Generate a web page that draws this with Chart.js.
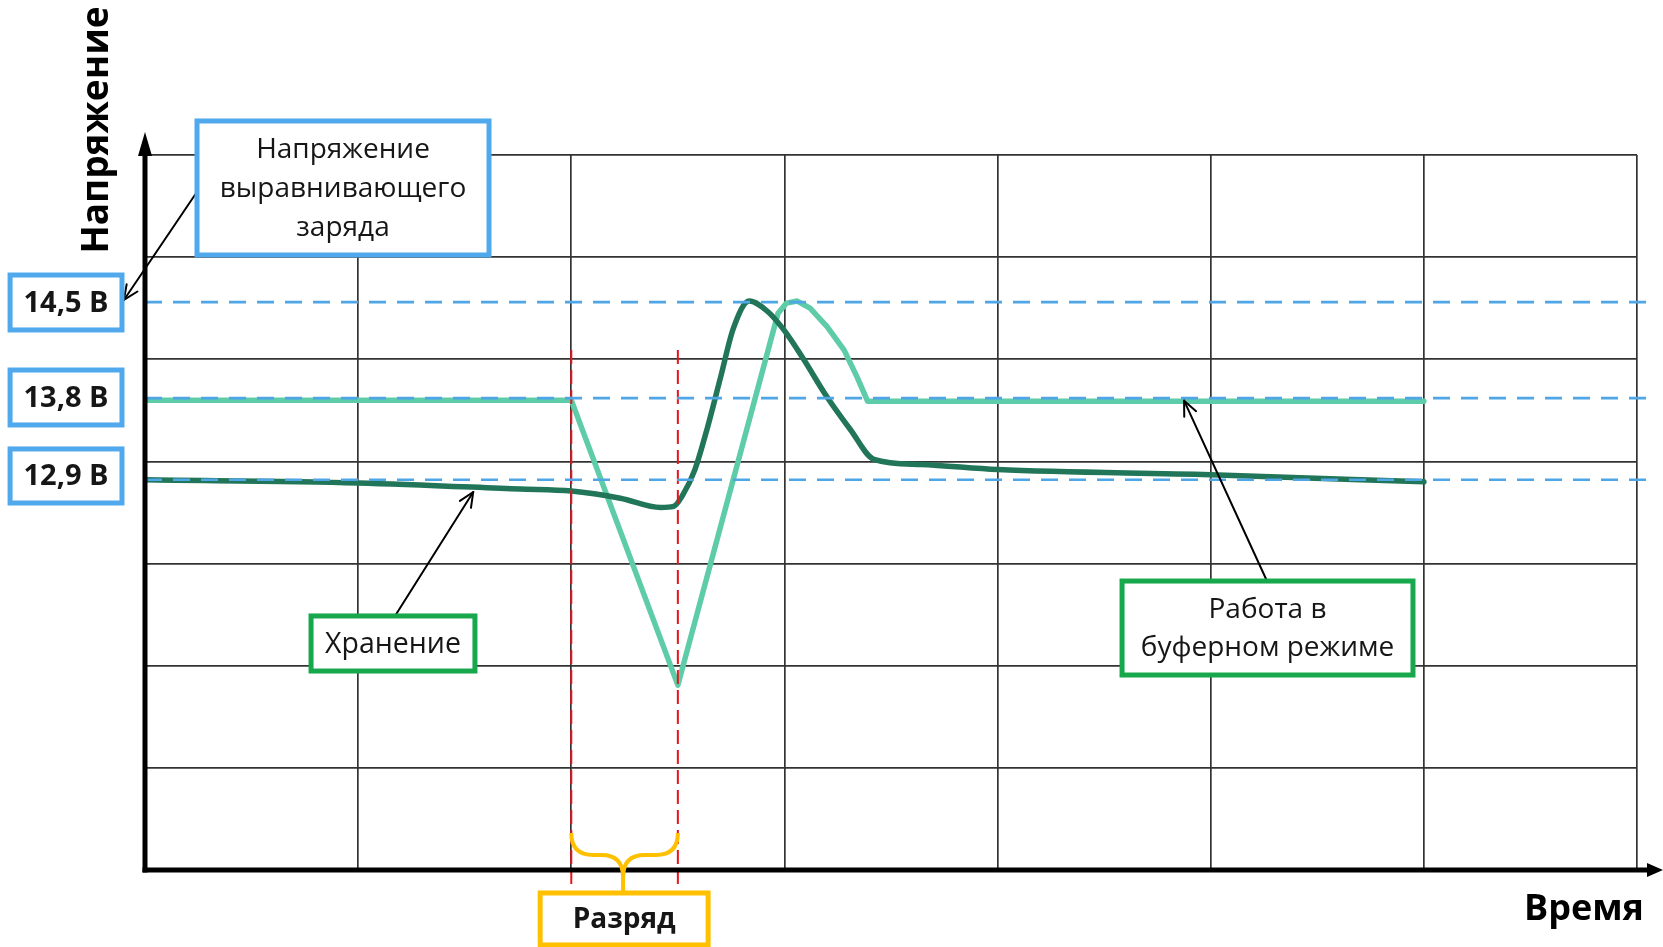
<!DOCTYPE html>
<html><head><meta charset="utf-8">
<script src="https://cdn.jsdelivr.net/npm/chart.js@4.4.1/dist/chart.umd.min.js"></script>
<style>html,body{margin:0;padding:0;background:#fff;overflow:hidden}#wrap{width:1663px;height:947px}</style>
</head><body><div id="wrap"><canvas id="c" width="1663" height="947"></canvas></div>
<script>
// ---- data (abstract grid units: time 0..7, voltage 0..7) ----
const timeTicks = [0, 1, 2, 3, 4, 5, 6, 7];
const voltTicks = [0, 1, 2, 3, 4, 5, 6, 7];
const levelNames = ['14,5 В', '13,8 В', '12,9 В'];
const levelValues = [5.56, 4.62, 3.82];
const levelLineEnd = 7.07;
const chargerX = [0, 2.0, 2.5, 2.97, 3.01, 3.06, 3.12, 3.20, 3.28, 3.34, 3.39, 6.0];
const chargerY = [4.60, 4.60, 1.81, 5.45, 5.55, 5.57, 5.50, 5.32, 5.09, 4.83, 4.59, 4.59];
const batteryX = [0, 1.0, 1.76, 2.0, 2.23, 2.42, 2.48, 2.52, 2.58, 2.64, 2.70, 2.76, 2.835, 2.92, 3.0, 3.09, 3.20, 3.31, 3.42, 3.64, 4.0, 5.0, 6.0];
const batteryY = [3.82, 3.79, 3.73, 3.71, 3.64, 3.55, 3.56, 3.66, 3.92, 4.34, 4.82, 5.30, 5.57, 5.47, 5.28, 5.00, 4.63, 4.31, 4.02, 3.97, 3.92, 3.87, 3.80];
const dischargeBounds = [2.0, 2.5];
const dischargeLineTop = 5.09, dischargeLineBottom = -0.19;
const seriesNames = ['Напряжение зарядного устройства', 'Напряжение батареи'];
const axisTitles = ['Напряжение', 'Время'];

const pts = (xs, ys) => xs.map((x, i) => ({x, y: ys[i]}));

const datasets = [];
levelValues.forEach((v, i) => datasets.push({
  label: levelNames[i], data: [{x: 0, y: v}, {x: levelLineEnd, y: v}],
  borderColor: '#4FA6E6', borderWidth: 2.6, borderDash: [17, 11], pointRadius: 0,
  tension: 0, clip: false, order: 0
}));
dischargeBounds.forEach(b => datasets.push({
  label: 'Разряд', data: [{x: b, y: dischargeLineTop}, {x: b, y: dischargeLineBottom}],
  borderColor: '#E8141B', borderWidth: 2, borderDash: [14, 6], pointRadius: 0,
  tension: 0, clip: false, order: 0
}));
datasets.push({
  label: seriesNames[0], data: pts(chargerX, chargerY),
  borderColor: '#5ECBA9', borderWidth: 5.5, pointRadius: 0, tension: 0,
  borderJoinStyle: 'round', borderCapStyle: 'round', order: 2
});
datasets.push({
  label: seriesNames[1], data: pts(batteryX, batteryY),
  borderColor: '#217559', borderWidth: 5.5, pointRadius: 0,
  cubicInterpolationMode: 'monotone', borderJoinStyle: 'round', borderCapStyle: 'round', order: 1
});

// ---- annotations (positions in data units) ----
const FONT = '"Open Sans", "DejaVu Sans", sans-serif';
const boxes = [
  {x1: 0.244, y1: 7.333, x2: 1.614, y2: 6.021, color: '#4FA9EC', lines: ['Напряжение', 'выравнивающего', 'заряда'], font: '28px', lineGap: 0.382},
  {x1: -0.633, y1: 5.825, x2: -0.108, y2: 5.287, color: '#4FA9EC', lines: [levelNames[0]], font: 'bold 29px', lineGap: 0},
  {x1: -0.633, y1: 4.895, x2: -0.108, y2: 4.357, color: '#4FA9EC', lines: [levelNames[1]], font: 'bold 29px', lineGap: 0},
  {x1: -0.633, y1: 4.122, x2: -0.108, y2: 3.593, color: '#4FA9EC', lines: [levelNames[2]], font: 'bold 29px', lineGap: 0},
  {x1: 0.779, y1: 2.487, x2: 1.548, y2: 1.948, color: '#17A84C', lines: ['Хранение'], font: '28.5px', lineGap: 0},
  {x1: 4.584, y1: 2.829, x2: 5.949, y2: 1.909, color: '#17A84C', lines: ['Работа в', 'буферном режиме'], font: '28px', lineGap: 0.372},
  {x1: 1.854, y1: -0.225, x2: 2.642, y2: -0.734, color: '#FFC000', lines: ['Разряд'], font: 'bold 28px', lineGap: 0}
];
const arrows = [
  {from: [0.253, 6.667], to: [-0.099, 5.581]},
  {from: [1.173, 2.487], to: [1.540, 3.701]},
  {from: [5.264, 2.829], to: [4.875, 4.595]}
];
const brace = {x1: 2.0, x2: 2.5, cx: 2.243, yTop: 0.362, yMid: 0.147, yBottom: -0.225};

const annot = {
  id: 'annot',
  afterDatasetsDraw(chart) {
    const {ctx, scales: {x, y}} = chart;
    const X = v => x.getPixelForValue(v), Y = v => y.getPixelForValue(v);
    ctx.save();
    ctx.strokeStyle = '#000'; ctx.fillStyle = '#000'; ctx.lineWidth = 5; ctx.lineCap = 'butt';
    const ox = X(0), oy = Y(0);
    const yTip = Y(7.225), xTip = X(7.122);
    ctx.beginPath(); ctx.moveTo(ox, oy + 2.5); ctx.lineTo(ox, yTip + 14); ctx.stroke();
    ctx.beginPath(); ctx.moveTo(ox, yTip); ctx.lineTo(ox - 7, yTip + 24); ctx.lineTo(ox + 7, yTip + 24); ctx.closePath(); ctx.fill();
    ctx.beginPath(); ctx.moveTo(ox - 2.5, oy); ctx.lineTo(xTip - 10, oy); ctx.stroke();
    ctx.beginPath(); ctx.moveTo(xTip, oy); ctx.lineTo(xTip - 16, oy - 7); ctx.lineTo(xTip - 16, oy + 7); ctx.closePath(); ctx.fill();
    ctx.restore();
  },
  afterDraw(chart) {
    const {ctx, scales: {x, y}} = chart;
    const X = v => x.getPixelForValue(v), Y = v => y.getPixelForValue(v);
    ctx.save();
    ctx.strokeStyle = '#FFC000'; ctx.lineWidth = 4; ctx.lineJoin = 'round';
    const bx1 = X(brace.x1), bx2 = X(brace.x2), bcx = X(brace.cx);
    const bt = Y(brace.yTop), bm = Y(brace.yMid), bb = Y(brace.yBottom);
    const r = bm - bt;
    ctx.beginPath();
    ctx.moveTo(bx1, bt); ctx.quadraticCurveTo(bx1, bm, bx1 + r, bm);
    ctx.lineTo(bcx - r, bm); ctx.quadraticCurveTo(bcx, bm, bcx, bm + r); ctx.lineTo(bcx, bb);
    ctx.moveTo(bx2, bt); ctx.quadraticCurveTo(bx2, bm, bx2 - r, bm);
    ctx.lineTo(bcx + r, bm); ctx.quadraticCurveTo(bcx, bm, bcx, bm + r);
    ctx.stroke();
    ctx.strokeStyle = '#000'; ctx.lineWidth = 2; ctx.lineCap = 'round';
    arrows.forEach(a => {
      const fx = X(a.from[0]), fy = Y(a.from[1]), tx = X(a.to[0]), ty = Y(a.to[1]);
      const ang = Math.atan2(ty - fy, tx - fx), L = 16, w = 0.42;
      ctx.beginPath(); ctx.moveTo(fx, fy); ctx.lineTo(tx, ty); ctx.stroke();
      ctx.beginPath();
      ctx.moveTo(tx - L * Math.cos(ang - w), ty - L * Math.sin(ang - w));
      ctx.lineTo(tx, ty);
      ctx.lineTo(tx - L * Math.cos(ang + w), ty - L * Math.sin(ang + w));
      ctx.stroke();
    });
    boxes.forEach(b => {
      const l = X(b.x1), t = Y(b.y1), rr = X(b.x2), bo = Y(b.y2);
      ctx.fillStyle = '#fff'; ctx.fillRect(l, t, rr - l, bo - t);
      ctx.strokeStyle = b.color; ctx.lineWidth = 5; ctx.lineJoin = 'miter';
      ctx.strokeRect(l, t, rr - l, bo - t);
      ctx.fillStyle = '#161616'; ctx.font = b.font + ' ' + FONT;
      ctx.textAlign = 'center'; ctx.textBaseline = 'middle';
      const cxp = (l + rr) / 2, cyv = (b.y1 + b.y2) / 2;
      const n = b.lines.length;
      b.lines.forEach((s, i) => {
        const yy = cyv + ((n - 1) / 2 - i) * b.lineGap;
        ctx.fillText(s, cxp, Y(yy) + 1);
      });
    });
    ctx.fillStyle = '#000'; ctx.textAlign = 'center'; ctx.textBaseline = 'middle';
    ctx.font = 'bold 37px ' + FONT;
    ctx.save(); ctx.translate(X(-0.225), Y(7.245)); ctx.rotate(-Math.PI / 2);
    ctx.fillText(axisTitles[0], 0, 0); ctx.restore();
    ctx.font = 'bold 36px ' + FONT;
    ctx.fillText(axisTitles[1], X(6.751), Y(-0.392));
    ctx.restore();
  }
};

new Chart(document.getElementById('c'), {
  type: 'line',
  data: {datasets},
  options: {
    responsive: false, animation: false,
    layout: {padding: {left: 145, right: 26, top: 155, bottom: 77}},
    plugins: {legend: {display: false}, tooltip: {enabled: false}},
    scales: {
      x: {type: 'linear', min: timeTicks[0], max: timeTicks[timeTicks.length - 1],
          afterBuildTicks: s => { s.ticks = timeTicks.map(v => ({value: v})); },
          ticks: {display: false}, border: {display: false},
          grid: {color: '#333', lineWidth: 1.7, drawTicks: false}},
      y: {type: 'linear', min: voltTicks[0], max: voltTicks[voltTicks.length - 1],
          afterBuildTicks: s => { s.ticks = voltTicks.map(v => ({value: v})); },
          ticks: {display: false}, border: {display: false},
          grid: {color: '#333', lineWidth: 1.7, drawTicks: false}}
    }
  },
  plugins: [annot]
});
</script></body></html>
